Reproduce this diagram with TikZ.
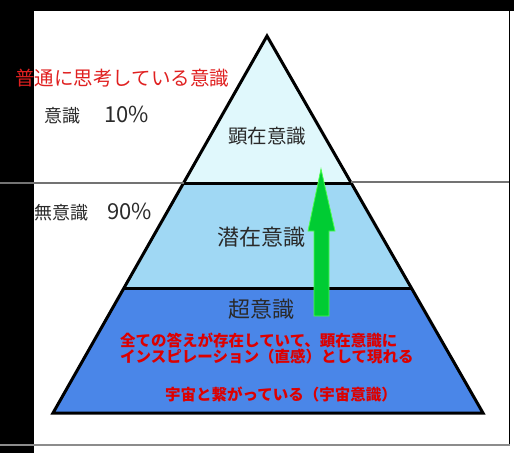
\documentclass[tikz,border=0pt]{standalone}
\usepackage{fontspec}
\newfontfamily\jp{Noto Sans CJK JP}
\definecolor{topband}{HTML}{E0F8FC}
\definecolor{midband}{HTML}{A0D8F4}
\definecolor{lowband}{HTML}{4A86E8}
\definecolor{arrowgreen}{HTML}{00CC33}
\definecolor{notered}{HTML}{E02020}
\definecolor{boldred}{HTML}{DD0000}
\definecolor{inkgray}{HTML}{2A2A2A}
\newcommand{\pct}[1]{{\fontsize{22}{24}\selectfont #1}}
\tikzset{
  label/.style={inner sep=0pt, text=inkgray, font=\jp\fontsize{18}{20}\selectfont},
  layer/.style={inner sep=0pt, text=inkgray},
  note/.style={inner sep=0pt, text=boldred, font=\jp\bfseries\fontsize{15.5}{16}\selectfont, align=left},
  edge/.style={line width=3pt, line join=miter},
  rule/.style={line width=1.5pt, draw=black!55}
}
\begin{document}
\begin{tikzpicture}[x=1pt,y=-1pt]

\useasboundingbox (0,0) rectangle (514,453);
\fill[white] (0,0) rectangle (514,453);
\fill[black] (0,0) rectangle (514,11);
\fill[black] (0,0) rectangle (34,453);

% pyramid corners
\coordinate (apex) at (267,36);
\coordinate (bl) at (53,413);
\coordinate (br) at (483,413);
\coordinate (ul) at (183.6,183);
\coordinate (ur) at (351.2,183);
\coordinate (ml) at (124,288);
\coordinate (mr) at (411.4,288);

% bands
\fill[topband] (apex) -- (ur) -- (ul) -- cycle;
\fill[midband] (ul) -- (ur) -- (mr) -- (ml) -- cycle;
\fill[lowband] (ml) -- (mr) -- (br) -- (bl) -- cycle;
\draw[edge] (apex) -- (br) -- (bl) -- cycle;
\draw[edge] (ul) -- (ur);
\draw[edge] (ml) -- (mr);

% frame lines
\coordinate (rl) at (0,183);
\coordinate (rr) at (509.5,182);
\draw[rule] (rl) -- (ul);
\draw[rule] (ur |- rr) -- (rr);
\draw[line width=1pt] (509.5,11) -- (509.5,445);
\draw[line width=1.5pt, draw=black!45] (0,445) -- (510,445);

% green arrow
\draw[fill=arrowgreen, draw=green!70!white, line width=0.8pt]
  (314,316) -- (329,316) -- (329,231) -- (335,231) -- (321,169)
  -- (308,231) -- (314,231) -- cycle;

% texts
\node[inner sep=0pt, anchor=west, text=notered, font=\jp\fontsize{19.5}{20}\selectfont] (normal) at (15,78) {普通に思考している意識};
\node[label, anchor=west] (conscious) at (44,115) {意識\hspace{24pt}\pct{10\%}};
\node[label, anchor=west] (unconscious) at (34,212) {無意識\hspace{19pt}\pct{90\%}};
\node[layer, font=\jp\fontsize{19.5}{20}\selectfont] (overt) at (267,136) {顕在意識};
\node[layer, font=\jp\fontsize{22}{24}\selectfont] (latent) at (261.5,237) {潜在意識};
\node[layer, font=\jp\fontsize{22}{24}\selectfont] (super) at (261,309) {超意識};
\node[note, anchor=north west] (answers) at (120,333) {全ての答えが存在していて、顕在意識に\\インスピレーション（直感）として現れる};
\node[note, anchor=west] (cosmos) at (165,394) {宇宙と繋がっている（宇宙意識）};

\end{tikzpicture}
\end{document}
